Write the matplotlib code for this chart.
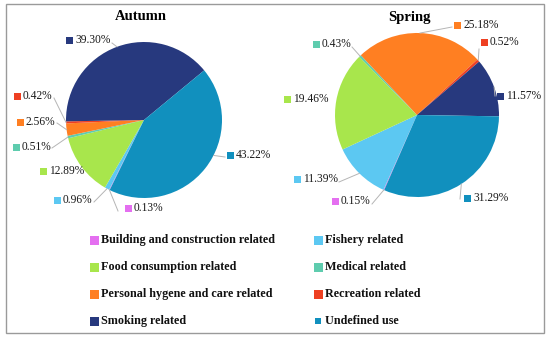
import matplotlib
matplotlib.use("Agg")
import matplotlib.pyplot as plt
from matplotlib.patches import Rectangle
import numpy as np

# ---- data ----
categories = ["Building and construction related", "Fishery related",
              "Food consumption related", "Medical related",
              "Personal hygene and care related", "Recreation related",
              "Smoking related", "Undefined use"]
autumn_values = [0.13, 0.96, 12.89, 0.51, 2.56, 0.42, 39.30, 43.22]
spring_values = [0.15, 11.39, 19.46, 0.43, 25.18, 0.52, 11.57, 31.29]
colors = ["#E46FF0", "#5CC8F2", "#A8E64C", "#5ECCAE",
          "#FF7F22", "#EE4022", "#27397E", "#1190BE"]

W, H = 550, 338
FONT = ["Liberation Serif", "DejaVu Serif"]

def P(x, y):
    return (x, H - y)

fig = plt.figure(figsize=(W / 100, H / 100), dpi=100)
ax = fig.add_axes([0, 0, 1, 1])

# layout: (center px, radius, startangle, title pos)
pies = [
    dict(values=autumn_values, title="Autumn", c=(144, 120), r=78, start=-116.1,
         tpos=(141, 17),
         # marker centre px, leader attach px (None => no line), edge angle override
         labels=[((128, 208), (118, 211), None), ((57, 200), (94, 202), None),
                 ((43, 171), None, None), ((16, 147), (52, 148), None),
                 ((20, 122), (57, 123), None), ((17, 96), (54, 98), None),
                 ((69, 40), (112, 43), None), ((230, 155), (225, 157), -27)]),
    dict(values=spring_values, title="Spring", c=(417, 115), r=82, start=-113.6,
         tpos=(409, 17),
         labels=[((335, 201), (372, 204), None), ((297, 179), (339, 182), None),
                 ((287, 99), None, None), ((316, 44), (352, 47), None),
                 ((457, 25), (452, 27), None), ((484, 42), (479, 49), None),
                 ((500, 96), (495, 96), None), ((467, 198), (460, 199), None)]),
]

for p in pies:
    cx, cy = P(*p["c"])
    wedges, _ = ax.pie(p["values"], colors=colors, startangle=p["start"],
                       counterclock=False, center=(cx, cy), radius=p["r"],
                       wedgeprops=dict(linewidth=0))
    ax.text(*P(*p["tpos"]), p["title"], ha="center", va="center",
            fontsize=10.5, fontweight="bold", family=FONT, color="black")
    for w, v, col, (mpos, attach, ang) in zip(wedges, p["values"], colors, p["labels"]):
        mid = (w.theta1 + w.theta2) / 2 if ang is None else ang
        mid = np.deg2rad(mid)
        ex, ey = cx + p["r"] * np.cos(mid), cy + p["r"] * np.sin(mid)
        if attach is not None:
            axp = P(*attach)
            ax.plot([ex, axp[0]], [ey, axp[1]], color="#B5B5B5", lw=0.7, zorder=1)
        mx, my = P(*mpos)
        ax.add_patch(Rectangle((mx - 3.5, my - 3.5), 7, 7, color=col, lw=0, zorder=3))
        ax.text(mx + 6, my, f"{v:.2f}%", ha="left", va="center",
                fontsize=8.3, family=FONT, color="#1a1a1a")

# legend
leg_cols_x = [94, 318]
leg_rows_y = [240, 267, 294, 321]
for i, (cat, col) in enumerate(zip(categories, colors)):
    x = leg_cols_x[i % 2]
    y = leg_rows_y[i // 2]
    lx, ly = P(x, y)
    s = 6 if cat == "Undefined use" else 9
    ax.add_patch(Rectangle((lx - s / 2, ly - s / 2), s, s, color=col, lw=0))
    ax.text(lx + 7, ly, cat, ha="left", va="center", fontsize=8.75,
            fontweight="bold", family=FONT, color="#111111")

# frame
x0, y0 = P(6, 333)
ax.add_patch(Rectangle((x0, y0), 538, 329, fill=False, ec="#9A9A9A", lw=1.0))

ax.set_xlim(0, W)
ax.set_ylim(0, H)
ax.set_aspect("auto")
ax.axis("off")
fig.savefig("out.png", dpi=100, facecolor="white")
